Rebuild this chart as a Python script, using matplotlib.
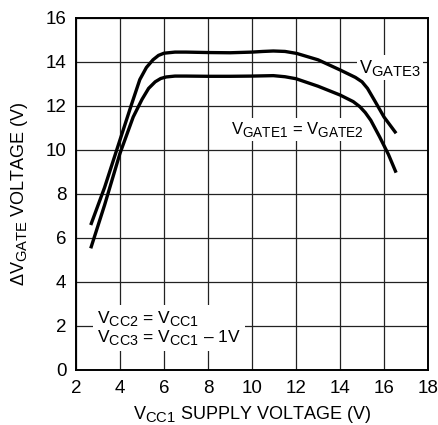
import matplotlib.pyplot as plt
import matplotlib._mathtext as mt

# V_GATE3 curve
x_gate3 = [2.67, 3.3, 3.85, 4.5, 4.9, 5.2, 5.5, 5.75, 6.0, 6.5, 7, 8, 9, 10, 10.5, 10.97, 11.5, 12.03, 13, 14, 14.7, 15.0, 15.25, 15.6, 16.0, 16.55]
y_gate3 = [6.59, 8.3, 10.0, 12.0, 13.2, 13.75, 14.1, 14.3, 14.4, 14.45, 14.45, 14.43, 14.42, 14.45, 14.48, 14.5, 14.48, 14.39, 14.1, 13.64, 13.3, 13.1, 12.8, 12.2, 11.5, 10.76]

# V_GATE1 = V_GATE2 curve
x_gate12 = [2.67, 3.3, 4.0, 4.6, 5.0, 5.3, 5.6, 5.85, 6.1, 6.5, 7, 8, 9, 10, 10.97, 11.5, 12.0, 13, 14, 14.6, 14.9, 15.15, 15.4, 15.8, 16.2, 16.55]
y_gate12 = [5.53, 7.5, 9.85, 11.5, 12.3, 12.8, 13.1, 13.25, 13.32, 13.36, 13.36, 13.35, 13.35, 13.36, 13.38, 13.33, 13.24, 12.9, 12.5, 12.2, 11.97, 11.7, 11.35, 10.6, 9.8, 8.97]

x_ticks = [2, 4, 6, 8, 10, 12, 14, 16, 18]
y_ticks = [0, 2, 4, 6, 8, 10, 12, 14, 16]

# bigger subscripts, closer to the datasheet look
mt.SHRINK_FACTOR = 0.82

plt.rcParams['font.family'] = ['Liberation Sans', 'DejaVu Sans']
plt.rcParams['mathtext.fontset'] = 'custom'
plt.rcParams['mathtext.rm'] = 'Liberation Sans'

fig = plt.figure(figsize=(4.38, 4.25), dpi=100)
ax = fig.add_axes([76 / 438, 55 / 425, 352 / 438, 352 / 425])

ax.plot(x_gate3, y_gate3, color='black', lw=2.4, solid_capstyle='butt', zorder=3)
ax.plot(x_gate12, y_gate12, color='black', lw=2.4, solid_capstyle='butt', zorder=3)

ax.set_xlim(2, 18)
ax.set_ylim(0, 16)
ax.set_xticks(x_ticks)
ax.set_yticks(y_ticks)
ax.tick_params(length=0, labelsize=13.5, pad=7)
ax.grid(True, color='#222222', lw=0.9)
for s in ax.spines.values():
    s.set_linewidth(1.4)

box = dict(facecolor='white', edgecolor='none', pad=1.5)
ax.text(14.85, 13.75, r'V$_{\mathregular{GATE3}}$', fontsize=13, va='center', ha='left',
        bbox=box, zorder=2.5)
ax.text(12.05, 10.95, r'V$_{\mathregular{GATE1}}$ = V$_{\mathregular{GATE2}}$', fontsize=12,
        va='center', ha='center', bbox=box, zorder=2.5)
ax.text(2.95, 1.9, 'V$_{\\mathregular{CC2}}$ = V$_{\\mathregular{CC1}}$\nV$_{\\mathregular{CC3}}$ = V$_{\\mathregular{CC1}}$ \u2013 1V',
        fontsize=12.5, va='center', ha='left', linespacing=1.0,
        bbox=dict(facecolor='white', edgecolor='none', pad=3), zorder=2.5)

ax.set_xlabel(r'V$_{\mathregular{CC1}}$ SUPPLY VOLTAGE (V)', fontsize=13, labelpad=5)
ax.set_ylabel(r'$\Delta$V$_{\mathregular{GATE}}$ VOLTAGE (V)', fontsize=13)
ax.yaxis.set_label_coords(-46 / 352, 0.5)

fig.savefig('out.png', dpi=100)
